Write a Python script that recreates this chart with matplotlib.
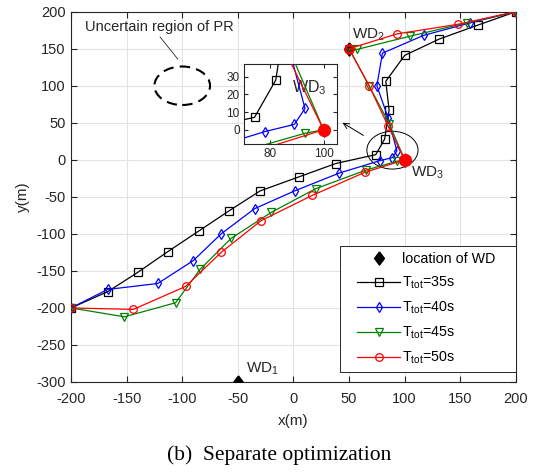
import numpy as np
import matplotlib
matplotlib.use("Agg")
import matplotlib.pyplot as plt
from matplotlib.patches import Ellipse, Rectangle

plt.rcParams['font.family'] = ['Liberation Sans', 'DejaVu Sans']
plt.rcParams['axes.unicode_minus'] = False
plt.rcParams['mathtext.default'] = 'regular'

# trajectories (x, y in m)
x35 = [-200, -167, -140, -113, -85, -58, -30, 5, 38, 74, 82, 86, 83, 100, 131, 166, 200]
y35 = [-200, -178, -152, -124, -96, -69, -42, -23, -5, 7, 28, 67, 106, 141, 163, 182, 200]

x40 = [-200, -167, -122, -90, -65, -35, 1, 41, 78, 89, 93, 85, 75, 80, 117, 159, 200]
y40 = [-200, -175, -167, -136, -100, -66, -42, -18, -1, 3, 12, 57, 100, 144, 168, 185, 200]

x45 = [-200, -152, -106, -84, -56, -20, 20, 65, 93, 100, 86, 68, 50, 57, 105, 156, 200]
y45 = [-200, -212, -193, -148, -106, -71, -39, -14, -2, 0, 49, 100, 150, 149, 167, 185, 200]

x50 = [-200, -144, -97, -65, -29, 17, 64, 100, 85, 68, 50, 93, 148, 200]
y50 = [-200, -202, -171, -125, -82, -48, -17, 0, 46, 100, 150, 170, 183, 200]

wd_x = [-50, 50, 100]
wd_y = [-300, 150, 0]
wd_names = ['WD$_1$', 'WD$_2$', 'WD$_3$']

series = [
    (x35, y35, 'k', 's', 'T$_{tot}$=35s'),
    (x40, y40, 'b', 'd', 'T$_{tot}$=40s'),
    (x45, y45, 'g', 'v', 'T$_{tot}$=45s'),
    (x50, y50, 'r', 'o', 'T$_{tot}$=50s'),
]
green = '#008000'
cols = {'k': 'k', 'b': 'b', 'g': green, 'r': 'r'}

diamond = [(0, 1), (0.75, 0), (0, -1), (-0.75, 0), (0, 1)]
tc = '#262626'

fig = plt.figure(figsize=(5.36, 4.75), dpi=100)
ax = fig.add_axes([0.1325, 0.1958, 0.83, 0.7796])

ax.plot(wd_x, wd_y, ls='none', marker=diamond, ms=9.5, color='k', label='location of WD', zorder=3)
for xs, ys, c, m, lab in series:
    ax.plot(xs, ys, color=cols[c], marker=m, ms=5.5, mfc='none', mew=0.9, lw=0.9, label=lab, zorder=4)
# hovering points pile up at WD2 / WD3
ax.plot([50], [150], 'o', ms=6, mfc='none', mec='r', mew=1.6, zorder=5)
ax.plot([100], [0], 'o', ms=8.5, color='r', zorder=5)

ax.set_xlim(-200, 200)
ax.set_ylim(-300, 200)
ax.set_xticks(np.arange(-200, 201, 50))
ax.set_yticks(np.arange(-300, 201, 50))
ax.grid(True, color='#e3e3e3', lw=0.8)
ax.set_axisbelow(True)
ax.tick_params(direction='in', top=True, right=True, labelsize=10.5, colors=tc, length=4)
ax.tick_params(axis='x', pad=7)
ax.tick_params(axis='y', pad=4)
for s in ax.spines.values():
    s.set_color(tc)
    s.set_linewidth(0.8)
ax.set_xlabel('x(m)', fontsize=11, color=tc, labelpad=6)
ax.set_ylabel('y(m)', fontsize=11, color=tc, labelpad=4)

ax.text(-43, -287, wd_names[0], fontsize=11, color=tc)
ax.text(53, 163, wd_names[1], fontsize=11, color=tc)
ax.text(106, -23, wd_names[2], fontsize=11, color=tc)

# uncertain region of PR
ax.add_patch(Ellipse((-100, 100), 50, 52, fill=False, ec='k', lw=1.5, ls=(0, (5, 3))))
ax.text(-121, 179, 'Uncertain region of PR', fontsize=10.5, ha='center', va='center', color=tc)
ax.plot([-120, -104], [166, 136], color='k', lw=0.5)

# zoom ellipse around WD3 and arrow to inset
ax.add_patch(Ellipse((89, 13), 46, 51, fill=False, ec='k', lw=0.7))
ax.annotate('', xy=(42, 52), xytext=(65, 31),
            arrowprops=dict(arrowstyle='->', color='k', lw=0.7))

# legend box drawn by hand (MATLAB style wide padding)
ax.add_patch(Rectangle((0.6045, 0.027), 0.3955, 0.34, transform=ax.transAxes,
                       fc='white', ec=tc, lw=0.7, zorder=6))
leg = ax.legend(loc='center left', bbox_to_anchor=(0.643, 0.197), fontsize=10.3,
                frameon=False, handlelength=3.0, handletextpad=0.15, borderaxespad=0,
                borderpad=0, labelspacing=0.6)
leg.set_zorder(7)

# inset
ins = fig.add_axes([0.455, 0.697, 0.1735, 0.168])
ins.plot(wd_x, wd_y, ls='none', marker=diamond, ms=9.5, color='k', zorder=3)
for xs, ys, c, m, lab in series:
    ins.plot(xs, ys, color=cols[c], marker=m, ms=5.5, mfc='none', mew=0.9, lw=0.9, zorder=4)
ins.plot([100], [0], 'o', ms=8.5, color='r', zorder=5)
ins.set_xlim(70, 105)
ins.set_ylim(-8, 37)
ins.set_xticks([80, 100])
ins.set_yticks([0, 10, 20, 30])
ins.tick_params(direction='in', top=True, right=True, labelsize=8.5, colors=tc, pad=3, length=3)
for s in ins.spines.values():
    s.set_color(tc)
    s.set_linewidth(0.8)
ins.text(88, 21, 'WD$_3$', fontsize=11.5, color=tc)

fig.text(0.52, 0.042, '(b)  Separate optimization', family='Liberation Serif',
         fontsize=15.5, ha='center', va='center')

fig.savefig('out.png', dpi=100)
